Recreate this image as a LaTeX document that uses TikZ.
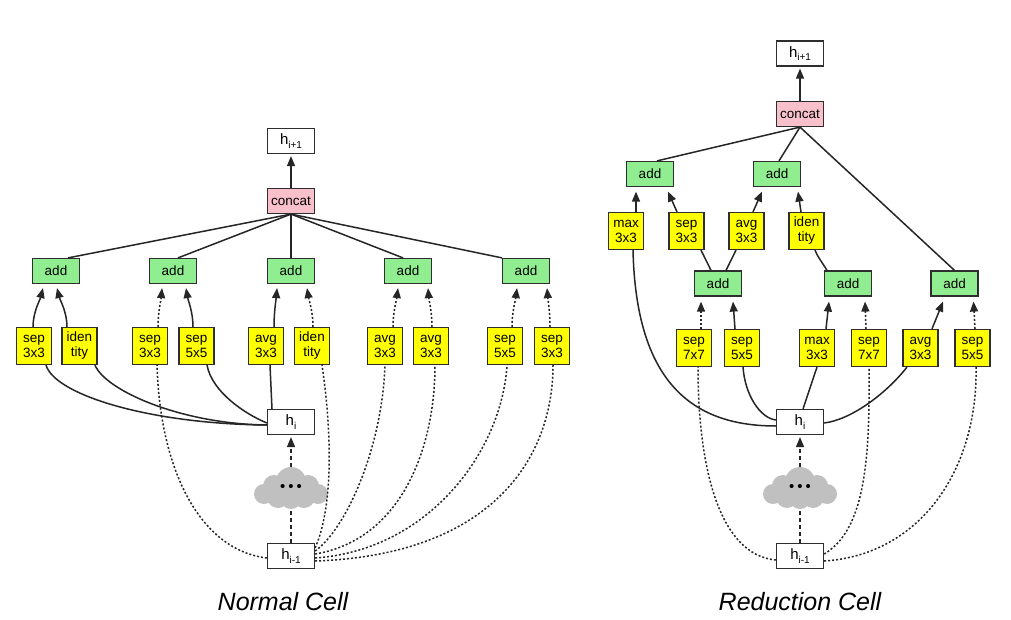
\documentclass[tikz,border=0pt]{standalone}
\usepackage{fontspec}
\setmainfont{Liberation Sans}
\usetikzlibrary{arrows.meta,calc}
\definecolor{opy}{HTML}{FFFF00}
\definecolor{addg}{HTML}{90EE90}
\definecolor{catp}{HTML}{F8C0CB}
\definecolor{bordc}{HTML}{2E2E2E}
\definecolor{edgec}{HTML}{262626}
\definecolor{cloudg}{HTML}{C0C0C0}
\newcommand\hsubx[1]{h\raisebox{-3.5pt}{\fontsize{10}{10}\selectfont #1}}
\newcommand\dotsx{\textbullet\hspace{3pt}\textbullet\hspace{3pt}\textbullet}
\newcommand\cloudblob[1]{%
  \begin{scope}[shift={#1}]
  \fill[cloudg] (0,-6) circle[radius=15pt];
  \fill[cloudg] (-17,-2) circle[radius=11pt];
  \fill[cloudg] (17,-2) circle[radius=11pt];
  \fill[cloudg] (-27,6) circle[radius=10pt];
  \fill[cloudg] (27,6) circle[radius=10pt];
  \fill[cloudg] (-13,9) circle[radius=11pt];
  \fill[cloudg] (13,9) circle[radius=11pt];
  \fill[cloudg] (0,10) circle[radius=11pt];
  \end{scope}}
\tikzset{
 box/.style={draw=bordc, line width=1.2pt, inner sep=0pt, font=\fontsize{13.5}{15}\selectfont, align=center},
 opbox/.style={box, fill=opy, minimum width=35pt, minimum height=37pt},
 addbox/.style={box, fill=addg, minimum width=47pt, minimum height=25pt},
 catbox/.style={box, fill=catp, minimum width=47pt, minimum height=25pt},
 hbox/.style={box, fill=white, minimum width=47pt, minimum height=25pt, font=\fontsize{15}{16}\selectfont},
 conn/.style={draw=edgec, line width=1.5pt},
 arr/.style={conn, -{Triangle[length=10pt,width=8pt]}},
 dotline/.style={dash pattern=on 2pt off 2pt},
 dashline/.style={dash pattern=on 4pt off 3pt},
 cloudnode/.style={inner sep=0pt, minimum width=76pt, minimum height=42pt, font=\fontsize{15}{15}\selectfont},
 title/.style={font=\fontsize{25}{30}\selectfont\itshape}
}
\begin{document}
\begin{tikzpicture}[x=1pt,y=-1pt]
\useasboundingbox (0,0) rectangle (1011,620);
\fill[white] (0,0) rectangle (1011,620);
\cloudblob{(291,488)}
\cloudblob{(800,488)}
% ---------------- Normal cell nodes
\node[hbox] (hN1) at (291,141) {\hsubx{i+1}};
\node[catbox] (concatN) at (291,201) {concat};
\node[addbox] (addN1) at (56,271) {add};
\node[addbox] (addN2) at (173,271) {add};
\node[addbox] (addN3) at (291,271) {add};
\node[addbox] (addN4) at (408,271) {add};
\node[addbox] (addN5) at (526,271) {add};
\node[opbox] (oN1a) at (34,346) {sep\\3x3};
\node[opbox] (oN1b) at (79.5,346) {iden\\tity};
\node[opbox] (oN2a) at (150,346) {sep\\3x3};
\node[opbox] (oN2b) at (196.5,346) {sep\\5x5};
\node[opbox] (oN3a) at (266,346) {avg\\3x3};
\node[opbox] (oN3b) at (312,346) {iden\\tity};
\node[opbox] (oN4a) at (385,346) {avg\\3x3};
\node[opbox] (oN4b) at (431,346) {avg\\3x3};
\node[opbox] (oN5a) at (505,346) {sep\\5x5};
\node[opbox] (oN5b) at (552,346) {sep\\3x3};
\node[hbox] (hiN) at (291,422) {\hsubx{i}};
\node[cloudnode] (cloudN) at (291,488) {\dotsx};
\node[hbox] (hpN) at (291,556) {\hsubx{i-1}};
\node[title] (tN) at (283,602) {Normal Cell};
% ---------------- Reduction cell nodes
\node[hbox] (hR1) at (800,53.5) {\hsubx{i+1}};
\node[catbox] (concatR) at (800,114) {concat};
\node[addbox] (addR1) at (650,174) {add};
\node[addbox] (addR2) at (777,174) {add};
\node[opbox] (oR1a) at (626,231) {max\\3x3};
\node[opbox] (oR1b) at (686.5,231) {sep\\3x3};
\node[opbox] (oR2a) at (746.5,231) {avg\\3x3};
\node[opbox] (oR2b) at (806.5,231) {iden\\tity};
\node[addbox] (addR3) at (718,283.5) {add};
\node[addbox] (addR4) at (848,283.5) {add};
\node[addbox] (addR5) at (954.5,283.5) {add};
\node[opbox] (oR3a) at (694,348) {sep\\7x7};
\node[opbox] (oR3b) at (742,348) {sep\\5x5};
\node[opbox] (oR4a) at (817,348) {max\\3x3};
\node[opbox] (oR4b) at (869,348) {sep\\7x7};
\node[opbox] (oR5a) at (920.5,348) {avg\\3x3};
\node[opbox] (oR5b) at (972.5,348) {sep\\5x5};
\node[hbox] (hiR) at (800,422) {\hsubx{i}};
\node[cloudnode] (cloudR) at (800,488) {\dotsx};
\node[hbox] (hpR) at (800,556) {\hsubx{i-1}};
\node[title] (tR) at (800,602) {Reduction Cell};
% ---------------- Normal cell edges
\draw[arr] (concatN.north) -- ($(hN1.south)+(0,2)$);
\draw[conn] (concatN.south) -- ($(addN1.north)+(12,0)$);
\draw[conn] (concatN.south) -- ($(addN2.north)+(5,0)$);
\draw[conn] (concatN.south) -- (addN3.north);
\draw[conn] (concatN.south) -- ($(addN4.north)+(-5,0)$);
\draw[conn] (concatN.south) -- ($(addN5.north)+(-24,0)$);
\draw[arr] ($(oN1a.north)+(-1,0)$) .. controls (33,312) and (40,300) .. ($(addN1.south)+(-13,4)$);
\draw[arr] ($(oN1b.north)+(-12.5,0)$) .. controls (67,312) and (60,300) .. ($(addN1.south)+(1,4)$);
\draw[arr,dotline] ($(oN2a.north)+(8,0)$) .. controls (158,312) and (161,300) .. ($(addN2.south)+(-11,4)$);
\draw[arr] ($(oN2b.north)+(-3.5,0)$) .. controls (193,312) and (188,300) .. ($(addN2.south)+(13,4)$);
\draw[arr] ($(oN3a.north)+(8,0)$) .. controls (274,312) and (276,300) .. ($(addN3.south)+(-14,4)$);
\draw[arr,dotline] ($(oN3b.north)+(1,0)$) .. controls (313,312) and (309,300) .. ($(addN3.south)+(16,4)$);
\draw[arr,dotline] ($(oN4a.north)+(8,0)$) .. controls (393,312) and (396.5,300) .. ($(addN4.south)+(-10,4)$);
\draw[arr,dotline] ($(oN4b.north)+(1,0)$) .. controls (432,312) and (429,300) .. ($(addN4.south)+(20,4)$);
\draw[arr,dotline] ($(oN5a.north)+(7,0)$) .. controls (512,312) and (515.5,300) .. ($(addN5.south)+(-9,4)$);
\draw[arr,dotline] ($(oN5b.north)+(-2,0)$) .. controls (550,312) and (548,300) .. ($(addN5.south)+(21,4)$);
\draw[conn] ($(hiN.west)+(0,3)$) .. controls (150,424) and (55,395) .. ($(oN1a.south)+(12,0)$);
\draw[conn] ($(hiN.west)+(0,3)$) .. controls (180,424) and (105,390) .. ($(oN1b.south)+(15.5,0)$);
\draw[conn] ($(hiN.west)+(0,1)$) .. controls (245,414) and (212,392) .. ($(oN2b.south)+(10.5,0)$);
\draw[conn] ($(hiN.north)+(-19,0)$) -- ($(oN3a.south)+(4,0)$);
\draw[conn,dotline] ($(hpN.west)+(0,2)$) .. controls (200,550) and (160,470) .. ($(oN2a.south)+(7,0)$);
\draw[conn,dotline] ($(hpN.north east)+(0,5)$) .. controls (332,510) and (333,440) .. ($(oN3b.south)+(10,0)$);
\draw[conn,dotline] ($(hpN.east)+(0,-5)$) .. controls (345,530) and (382,450) .. (oN4a.south);
\draw[conn,dotline] ($(hpN.east)+(0,-2)$) .. controls (400,540) and (435,450) .. ($(oN4b.south)+(4,0)$);
\draw[conn,dotline] ($(hpN.east)+(0,2)$) .. controls (430,550) and (502,450) .. ($(oN5a.south)+(2,0)$);
\draw[conn,dotline] ($(hpN.east)+(0,5)$) .. controls (490,555) and (553,460) .. ($(oN5b.south)+(1,0)$);
\draw[conn,dashline] (hpN.north) -- (cloudN.south);
\draw[arr,dashline] (cloudN.north) -- ($(hiN.south)+(0,2)$);
% ---------------- Reduction cell edges
\draw[arr] (concatR.north) -- ($(hR1.south)+(0,2)$);
\draw[conn] (concatR.south) -- ($(addR1.north)+(7,0)$);
\draw[conn] (concatR.south) -- ($(addR2.north)+(2,0)$);
\draw[conn] (concatR.south) -- (addR5.north);
\draw[arr] ($(oR1a.north)+(10,0)$) -- ($(addR1.south)+(-14,4.5)$);
\draw[arr] ($(oR1b.north)+(-9.5,0)$) -- ($(addR1.south)+(18,4.5)$);
\draw[arr] ($(oR2a.north)+(6.5,0)$) -- ($(addR2.south)+(-15,4.5)$);
\draw[arr] ($(oR2b.north)+(-5.5,0)$) -- ($(addR2.south)+(21,4.5)$);
\draw[conn] ($(addR3.north)+(-7,0)$) -- ($(oR1b.south)+(14.5,0)$);
\draw[conn] ($(addR3.north)+(8,0)$) -- ($(oR2a.south)+(-10.5,0)$);
\draw[conn] ($(addR4.north)+(-21,0)$) .. controls (822,262) and (817,256) .. ($(oR2b.south)+(8.5,0)$);
\draw[arr,dotline] ($(oR3a.north)+(7,0)$) -- ($(addR3.south)+(-17,5)$);
\draw[arr] ($(oR3b.north)+(-7,0)$) -- ($(addR3.south)+(15,5)$);
\draw[arr] ($(oR4a.north)+(9,0)$) -- ($(addR4.south)+(-19,5)$);
\draw[arr,dotline] ($(oR4b.north)+(-3,0)$) -- ($(addR4.south)+(17,5)$);
\draw[arr] ($(oR5a.north)+(11.5,0)$) -- ($(addR5.south)+(-11.5,5)$);
\draw[arr,dotline] ($(oR5b.north)+(2.5,0)$) -- ($(addR5.south)+(19,5)$);
\draw[conn] ($(hiR.west)+(0,4)$) .. controls (690,426) and (636,380) .. ($(oR1a.south)+(7,0)$);
\draw[conn] ($(hiR.west)+(0,-2)$) .. controls (760,418) and (745,395) .. ($(oR3b.south)+(1,0)$);
\draw[conn] ($(hiR.north)+(3,0)$) -- (oR4a.south);
\draw[conn] ($(hiR.east)+(0,1)$) .. controls (850,420) and (885,395) .. ($(oR5a.south)+(-13.5,0)$);
\draw[conn,dotline] ($(hpR.west)+(0,4)$) .. controls (720,555) and (698,470) .. ($(oR3a.south)+(4,0)$);
\draw[conn,dotline] ($(hpR.east)+(0,-2)$) .. controls (865,530) and (870,460) .. (oR4b.south);
\draw[conn,dotline] ($(hpR.east)+(0,5)$) .. controls (920,555) and (978,470) .. ($(oR5b.south)+(3.5,0)$);
\draw[conn,dashline] (hpR.north) -- (cloudR.south);
\draw[arr,dashline] (cloudR.north) -- ($(hiR.south)+(0,2)$);
\end{tikzpicture}
\end{document}
